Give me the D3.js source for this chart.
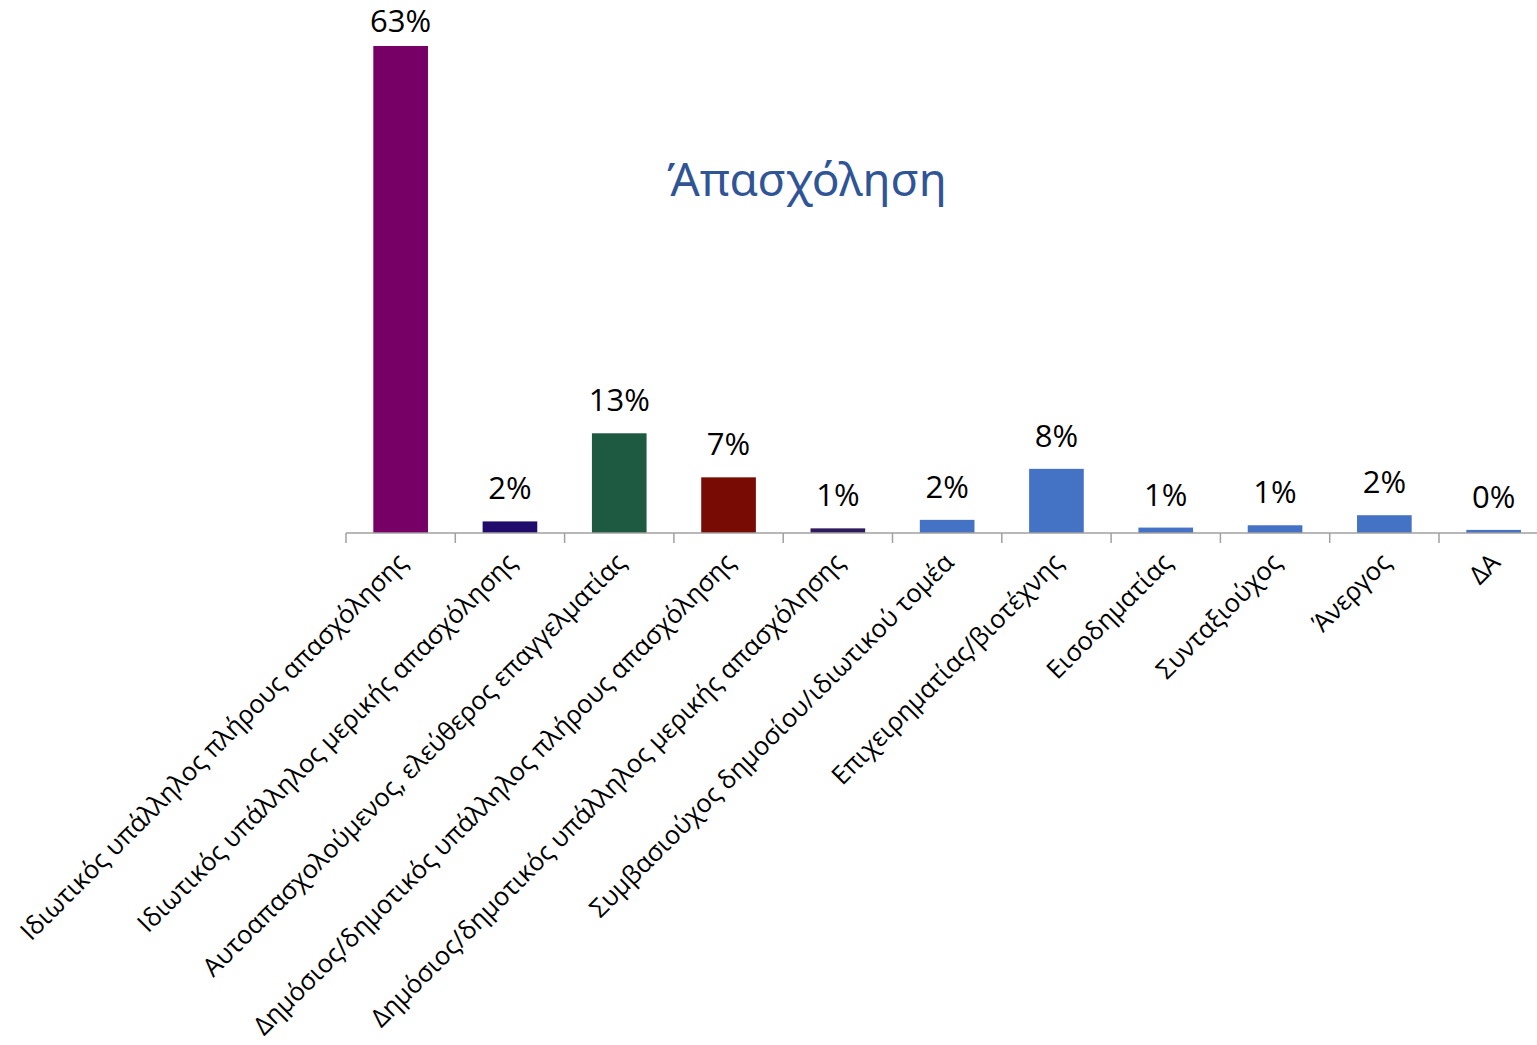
<!DOCTYPE html>
<html>
<head>
<meta charset="utf-8">
<script src="https://cdn.jsdelivr.net/npm/d3@7"></script>
<style>
  body { margin: 0; background: #fff; }
  svg { display: block; }
</style>
</head>
<body>
<div id="chart"></div>
<script>
// categories, values (%) and bar colours
var categories = [
  "Ιδιωτικός υπάλληλος πλήρους απασχόλησης",
  "Ιδιωτικός υπάλληλος μερικής απασχόλησης",
  "Αυτοαπασχολούμενος, ελεύθερος επαγγελματίας",
  "Δημόσιος/δημοτικός υπάλληλος πλήρους απασχόλησης",
  "Δημόσιος/δημοτικός υπάλληλος μερικής απασχόλησης",
  "Συμβασιούχος δημοσίου/ιδιωτικού τομέα",
  "Επιχειρηματίας/βιοτέχνης",
  "Εισοδηματίας",
  "Συνταξιούχος",
  "Άνεργος",
  "ΔΑ"
];
var values = [63.0, 1.5, 12.9, 7.2, 0.6, 1.7, 8.3, 0.7, 1.0, 2.3, 0.4];
var colors = ["#760066", "#210C6B", "#1E5A42", "#780B04", "#2E1A5C",
              "#4472C4", "#4472C4", "#4472C4", "#4472C4", "#4472C4", "#4472C4"];
var title = "Άπασχόληση";

var W = 1537, H = 1045;
var margin = {top: 46, left: 346, bottom: H - 533};
var plotW = 109.3 * categories.length;

var svg = d3.select("#chart").append("svg")
    .attr("width", W)
    .attr("height", H);

var g = svg.append("g")
    .attr("transform", "translate(" + margin.left + "," + margin.top + ")");

var height = 533 - margin.top;

var x = d3.scaleBand()
    .domain(categories)
    .range([0, plotW])
    .paddingInner(0.5)
    .paddingOuter(0.25);

var y = d3.scaleLinear()
    .domain([0, 63])
    .range([height, 0]);

// bars
g.selectAll("rect.bar")
  .data(values)
  .enter().append("rect")
    .attr("class", "bar")
    .attr("x", function(d, i) { return x(categories[i]); })
    .attr("y", function(d) { return y(d); })
    .attr("width", x.bandwidth())
    .attr("height", function(d) { return height - y(d); })
    .attr("fill", function(d, i) { return colors[i]; });

// value labels
g.selectAll("text.val")
  .data(values)
  .enter().append("text")
    .attr("class", "val")
    .attr("x", function(d, i) { return x(categories[i]) + x.bandwidth() / 2; })
    .attr("y", function(d) { return Math.max(y(d) - 22, 32 - margin.top); })
    .attr("text-anchor", "middle")
    .style("font-family", "'Open Sans', sans-serif")
    .style("font-size", "31px")
    .style("fill", "#000")
    .text(function(d) { return Math.round(d) + "%"; });

// x axis line and ticks at category boundaries
var axis = g.append("g").attr("transform", "translate(0," + height + ")");
axis.append("line")
    .attr("x1", 0).attr("x2", plotW)
    .attr("stroke", "#a0a0a0").attr("stroke-width", 1.5);
var bounds = d3.range(categories.length + 1).map(function(i) { return i * x.step(); });
axis.selectAll("line.tick")
  .data(bounds)
  .enter().append("line")
    .attr("class", "tick")
    .attr("x1", function(d) { return d; })
    .attr("x2", function(d) { return d; })
    .attr("y1", 0).attr("y2", 10)
    .attr("stroke", "#a0a0a0").attr("stroke-width", 1.5);

// rotated category labels
axis.selectAll("text.cat")
  .data(categories)
  .enter().append("text")
    .attr("class", "cat")
    .attr("transform", function(d) {
      return "translate(" + (x(d) + x.bandwidth() / 2 + 8) + ",31) rotate(-45)";
    })
    .attr("text-anchor", "end")
    .style("font-family", "'Open Sans', sans-serif")
    .style("font-size", "25.5px")
    .style("fill", "#000")
    .text(function(d) { return d; });

// title
svg.append("text")
    .attr("x", 807)
    .attr("y", 196)
    .attr("text-anchor", "middle")
    .style("font-family", "'Noto Sans', sans-serif")
    .style("font-size", "46px")
    .style("fill", "#2F5597")
    .text(title);
</script>
</body>
</html>
